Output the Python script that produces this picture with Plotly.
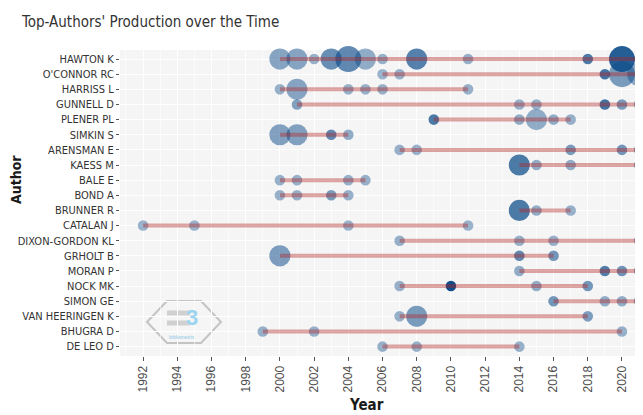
import plotly.graph_objects as go

authors = ["HAWTON K", "O'CONNOR RC", "HARRISS L", "GUNNELL D", "PLENER PL", "SIMKIN S",
           "ARENSMAN E", "KAESS M", "BALE E", "BOND A", "BRUNNER R", "CATALAN J",
           "DIXON-GORDON KL", "GRHOLT B", "MORAN P", "NOCK MK", "SIMON GE",
           "VAN HEERINGEN K", "BHUGRA D", "DE LEO D"]

years = [
    [2000, 2001, 2002, 2003, 2004, 2005, 2006, 2008, 2011, 2018, 2020, 2021],
    [2006, 2007, 2019, 2020, 2021],
    [2000, 2001, 2004, 2005, 2006, 2011],
    [2001, 2014, 2015, 2019, 2020, 2021],
    [2009, 2014, 2015, 2016, 2017],
    [2000, 2001, 2003, 2004],
    [2007, 2008, 2017, 2020, 2021],
    [2014, 2015, 2017, 2021],
    [2000, 2001, 2004, 2005],
    [2000, 2001, 2003, 2004],
    [2014, 2015, 2017],
    [1992, 1995, 2004, 2011],
    [2007, 2014, 2016, 2021],
    [2000, 2014, 2016],
    [2014, 2019, 2020, 2021],
    [2007, 2010, 2015, 2018],
    [2016, 2019, 2020, 2021],
    [2007, 2008, 2018],
    [1999, 2002, 2020],
    [2006, 2008, 2014],
]

articles = [
    [4, 4, 1, 4, 6, 4, 1, 4, 1, 1, 6, 1],
    [1, 1, 1, 6, 5],
    [1, 4, 1, 1, 1, 1],
    [1, 1, 1, 1, 1, 1],
    [1, 1, 4, 1, 1],
    [4, 4, 1, 1],
    [1, 1, 1, 1, 1],
    [4, 1, 1, 1],
    [1, 1, 1, 1],
    [1, 1, 1, 1],
    [4, 1, 1],
    [1, 1, 1, 1],
    [1, 1, 1, 1],
    [4, 1, 1],
    [1, 1, 1, 1],
    [1, 1, 1, 1],
    [1, 1, 1, 1],
    [1, 4, 1],
    [1, 1, 1],
    [1, 1, 1],
]

tc_per_year = [
    [6, 6, 3, 12, 14, 4, 3, 16, 3, 18, 26, 3],
    [2, 3, 20, 9, 5],
    [3, 6, 3, 3, 3, 3],
    [7, 3, 3, 20, 9, 4],
    [18, 4, 4, 4, 3],
    [7, 7, 14, 4],
    [3, 3, 9, 10, 4],
    [18, 4, 4, 3],
    [3, 3, 3, 3],
    [3, 3, 9, 3],
    [18, 4, 3],
    [2, 2, 2, 2],
    [3, 3, 3, 3],
    [8, 14, 10],
    [4, 17, 11, 4],
    [3, 30, 4, 10],
    [10, 4, 4, 4],
    [3, 9, 8],
    [3, 3, 3],
    [3, 3, 3],
]

year_ticks = list(range(1992, 2021, 2))

# flatten points
px_, py_, ps_, pt_ = [], [], [], []
for a, ys, ns, ts in zip(authors, years, articles, tc_per_year):
    px_ += ys
    py_ += [a] * len(ys)
    ps_ += ns
    pt_ += ts
tmin, tmax = min(pt_), max(pt_)
opac = [0.4 + 0.6 * (t - tmin) / (tmax - tmin) for t in pt_]

NARROW = "DejaVu Sans Condensed, Liberation Sans Narrow, Liberation Sans, Arial, sans-serif"

fig = go.Figure()
fig.add_trace(go.Scatter(
    x=px_, y=py_, mode="markers",
    marker=dict(size=ps_, sizemode="area", sizeref=1 / 56.0, color="#104E8B",
                opacity=opac, line=dict(width=0)),
    cliponaxis=False, showlegend=False,
    customdata=pt_, hovertemplate="%{y} %{x}<br>Articles: %{marker.size}<br>TC per Year: %{customdata}<extra></extra>",
))

# timeline lines (first to last year), drawn above points
lx, ly = [], []
for a, ys in zip(authors, years):
    lx += [min(ys), max(ys), None]
    ly += [a, a, None]
fig.add_trace(go.Scatter(
    x=lx, y=ly, mode="lines",
    line=dict(color="rgba(178,34,34,0.4)", width=4),
    showlegend=False, hoverinfo="skip", cliponaxis=False,
))

# page body has an 8px margin: work in screen pixels, convert to figure pixels
OFF = 8
FW, FH = 643 - OFF, 415 - OFF
L, T, W, H = 120 - OFF, 50 - OFF, 523, 306


def pxx(v):
    return (v - OFF - L) / W


def pyy(v):
    return (T + H - (v - OFF)) / H


# logo hexagon (decoration)
hexpts = [(147, 322), (167, 301), (201, 301), (221, 322), (201, 343), (167, 343)]
path = "M " + " L ".join(f"{pxx(x):.4f},{pyy(y):.4f}" for x, y in hexpts) + " Z"
shapes = [dict(type="path", path=path, xref="paper", yref="paper",
               line=dict(color="#c4c4c4", width=2), fillcolor="rgba(0,0,0,0)", layer="below")]
for yy in (313, 323):
    shapes.append(dict(type="line", xref="paper", yref="paper",
                       x0=pxx(167), x1=pxx(190), y0=pyy(yy), y1=pyy(yy),
                       line=dict(color="#d0d0d0", width=5), layer="below"))

annotations = [
    dict(text="<b>3</b>", x=pxx(192), y=pyy(317), xref="paper", yref="paper", showarrow=False,
         xanchor="center", yanchor="middle",
         font=dict(family="Liberation Sans, Arial", size=22, color="#9ad4f0")),
    dict(text="bibliometrix", x=pxx(182), y=pyy(337), xref="paper", yref="paper", showarrow=False,
         xanchor="center", yanchor="middle",
         font=dict(family="Liberation Sans, Arial", size=5, color="#8fc6e6")),
    dict(text="<b>Year</b>", x=pxx(366), y=pyy(405), xref="paper", yref="paper", showarrow=False,
         xanchor="center", yanchor="middle",
         font=dict(family=NARROW, size=15, color="#1a1a1a")),
    dict(text="<b>Author</b>", x=pxx(16), y=pyy(180), xref="paper", yref="paper", showarrow=False,
         xanchor="center", yanchor="middle",
         textangle=-90, font=dict(family=NARROW, size=14, color="#1a1a1a")),
]

fig.update_layout(
    width=FW, height=FH,
    margin=dict(l=L, r=FW - L - W, t=T, b=FH - T - H, autoexpand=False),
    paper_bgcolor="white", plot_bgcolor="#f5f5f5",
    title=dict(text="Top-Authors' Production over the Time", x=(22 - OFF) / FW, xanchor="left",
               xref="container", y=1 - (22 - OFF) / FH, yref="container", yanchor="middle",
               font=dict(family=NARROW, size=15, color="#333333")),
    shapes=shapes, annotations=annotations,
    xaxis=dict(range=[1990.65, 2021.23], tickvals=year_ticks, tickangle=-90,
               ticks="outside", ticklen=4, tickcolor="#555555", automargin=False,
               tickfont=dict(family="Liberation Sans, Arial", size=12, color="#4d4d4d"),
               showgrid=True, gridcolor="white", gridwidth=1, zeroline=False,
               minor=dict(dtick=1, tick0=1991, showgrid=True, gridcolor="rgba(255,255,255,0.6)", gridwidth=0.5)),
    yaxis=dict(categoryorder="array", categoryarray=authors, range=[19.62, -0.6],
               ticks="outside", ticklen=3, tickcolor="#555555", automargin=False,
               tickfont=dict(family=NARROW, size=11, color="#333333"),
               showgrid=True, gridcolor="white", gridwidth=1, zeroline=False),
)

fig.write_html("out.html")
